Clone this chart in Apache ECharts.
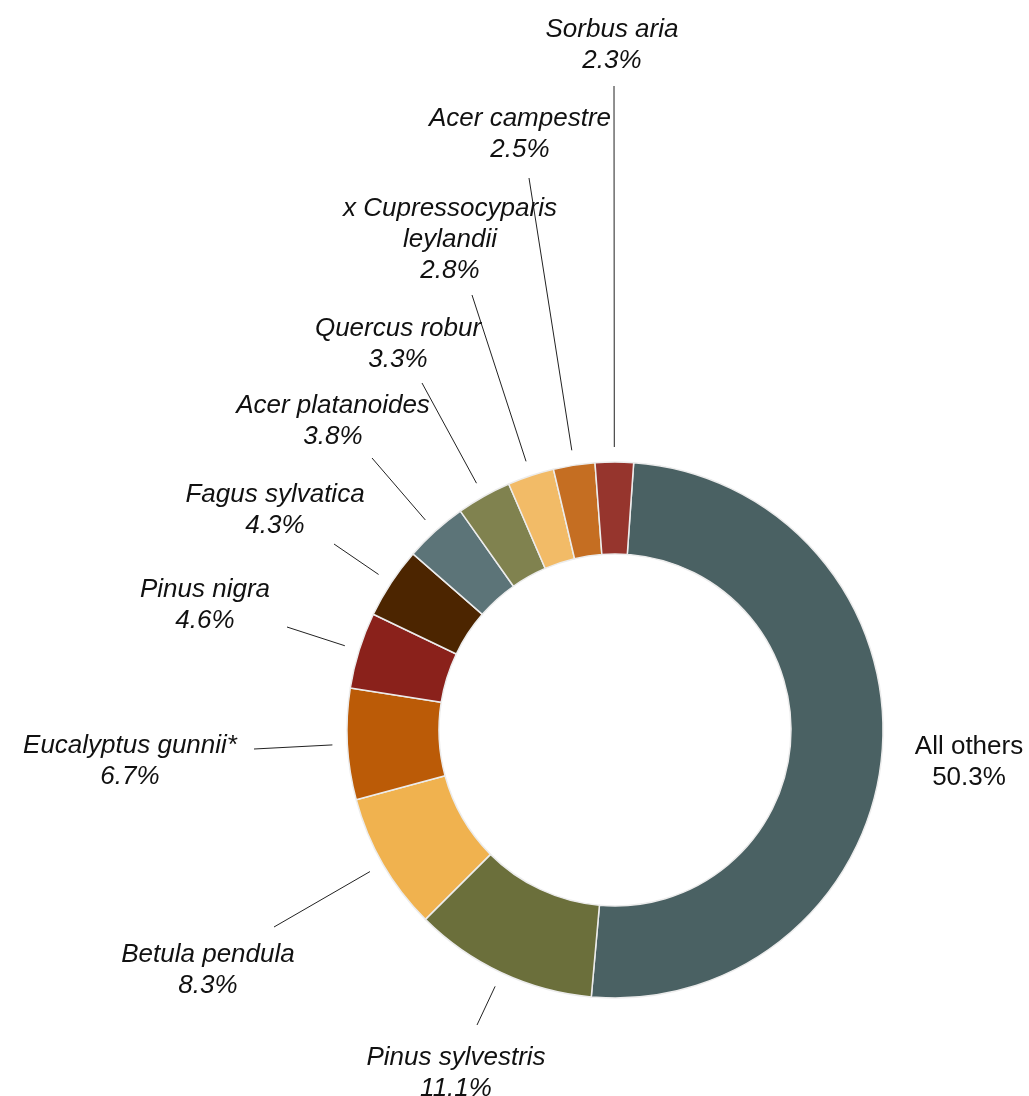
<!DOCTYPE html>
<html>
<head>
<meta charset="utf-8">
<script src="https://cdn.jsdelivr.net/npm/echarts@6/dist/echarts.min.js"></script>
<style>
  html, body { margin: 0; padding: 0; background: #ffffff; }
  #chart { width: 1029px; height: 1096px; }
</style>
</head>
<body>
<div id="chart"></div>
<script>
// Share of trees by species, clockwise from the top
const species = [
  'All others',
  'Pinus sylvestris',
  'Betula pendula',
  'Eucalyptus gunnii*',
  'Pinus nigra',
  'Fagus sylvatica',
  'Acer platanoides',
  'Quercus robur',
  'x Cupressocyparis\nleylandii',
  'Acer campestre',
  'Sorbus aria'
];
const shares = [50.3, 11.1, 8.3, 6.7, 4.6, 4.3, 3.8, 3.3, 2.8, 2.5, 2.3];

const sliceColors = [
  '#4a6163', '#6b6f3b', '#f0b24f', '#bb5b07', '#8a211b', '#4c2500',
  '#5c7478', '#80824f', '#f2bb67', '#c56e22', '#96352d'
];

// Label placement: centre of each text block, and the outer end of its leader line
const labelCenters = [
  [969, 762], [456, 1073], [208, 970], [130, 761], [205, 605],
  [275, 510], [333, 421], [398, 344], [450, 240], [520, 134], [612, 45]
];
const leaderEnds = [
  null, [477, 1025], [274, 927], [254, 749], [287, 627],
  [334, 544], [372, 458], [422, 383], [472, 295], [529, 178], [614, 86]
];
const leaderGap = 15;

const chart = echarts.init(document.getElementById('chart'));

const data = species.map((name, i) => ({
  name: name,
  value: shares[i],
  itemStyle: { color: sliceColors[i] },
  label: { fontStyle: i === 0 ? 'normal' : 'italic' },
  labelLine: { show: leaderEnds[i] !== null }
}));

chart.setOption({
  animation: false,
  backgroundColor: '#ffffff',
  series: [{
    type: 'pie',
    center: [615, 730],
    radius: [176, 268],
    startAngle: 86,
    clockwise: true,
    avoidLabelOverlap: false,
    itemStyle: { borderColor: '#ececec', borderWidth: 1.5 },
    label: {
      show: true,
      position: 'outside',
      formatter: '{b}\n{c}%',
      fontFamily: '"Liberation Sans", Arial, sans-serif',
      fontSize: 26,
      lineHeight: 31,
      color: '#111111',
      align: 'center'
    },
    labelLine: {
      show: true,
      length: 10,
      length2: 10,
      smooth: false,
      lineStyle: { color: '#222222', width: 1 }
    },
    labelLayout: function (params) {
      const i = params.dataIndex;
      const out = {
        x: labelCenters[i][0],
        y: labelCenters[i][1],
        align: 'center',
        verticalAlign: 'middle'
      };
      const pts = params.labelLinePoints;
      if (leaderEnds[i] && pts && pts.length >= 2) {
        const dx = pts[1][0] - pts[0][0];
        const dy = pts[1][1] - pts[0][1];
        const len = Math.sqrt(dx * dx + dy * dy) || 1;
        const start = [pts[0][0] + dx / len * leaderGap, pts[0][1] + dy / len * leaderGap];
        out.labelLinePoints = [start, leaderEnds[i], leaderEnds[i]];
      }
      return out;
    },
    data: data
  }]
});
</script>
</body>
</html>
